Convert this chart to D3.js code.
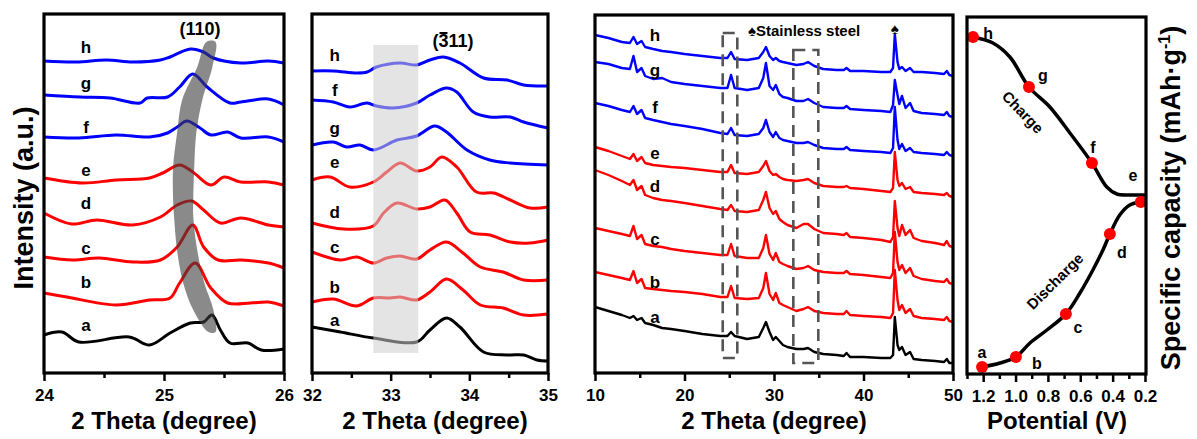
<!DOCTYPE html>
<html><head><meta charset="utf-8">
<script src="https://cdn.jsdelivr.net/npm/d3@7"></script>
<style>
body{margin:0;background:#fff;}
svg{display:block;}
</style></head><body>
<svg id="chart" width="1197" height="439"></svg>
<script>
// ---------------- DATA ----------------
const letters = ["h","g","f","e","d","c","b","a"];
const letterColor = {h:"#0000ff",g:"#0000ff",f:"#0000ff",e:"#ff0000",d:"#ff0000",c:"#ff0000",b:"#ff0000",a:"#000000"};

// Panel 1: (110) region, [2theta, intensity]
const p1H = [[24.0,312],[24.27,311],[24.52,313],[24.74,311],[24.97,313],[25.05,316],[25.22,324],[25.33,321],[25.41,315],[25.64,310],[25.87,312],[26.0,310]];
const p1G = [[24.0,278],[24.3,276],[24.55,275],[24.8,270],[24.86,275],[25.03,276],[25.13,286],[25.24,299],[25.36,286],[25.55,270],[25.64,271],[25.87,274],[26.0,268]];
const p1F = [[24.0,236],[24.29,235],[24.6,238],[24.88,236],[25.03,240],[25.11,246],[25.19,252],[25.3,245],[25.39,238],[25.53,241],[25.64,235],[25.87,236],[26.0,231]];
const p1E = [[24.0,195],[24.32,190],[24.6,193],[24.88,195],[24.99,200],[25.13,208],[25.24,201],[25.39,188],[25.5,196],[25.64,191],[25.87,191],[26.0,188]];
const p1D = [[24.0,160],[24.23,149],[24.44,153],[24.74,148],[24.97,156],[25.11,168],[25.23,172],[25.33,163],[25.47,150],[25.64,155],[25.87,148],[26.0,146]];
const p1C = [[24.0,116],[24.24,113],[24.46,115],[24.74,111],[24.97,113],[25.11,126],[25.24,148],[25.33,126],[25.45,113],[25.64,113],[25.87,110],[26.0,105]];
const p1B = [[24.0,80],[24.19,76],[24.6,68],[24.88,73],[25.05,75],[25.13,90],[25.26,110],[25.39,85],[25.53,70],[25.72,70],[25.87,71],[26.0,67]];
const p1A = [[24.0,38],[24.15,41],[24.29,31],[24.71,36],[24.88,28],[25.05,40],[25.22,50],[25.33,51],[25.4,58],[25.47,43],[25.55,30],[25.7,30],[25.81,23],[26.0,24]];
const p1Band = [[25.353,331],[25.277,306],[25.151,273],[25.109,240],[25.076,206],[25.076,173],[25.084,156],[25.109,123],[25.16,90],[25.244,63],[25.37,41],
                [25.429,41],[25.412,63],[25.336,90],[25.277,123],[25.244,156],[25.244,173],[25.252,206],[25.269,240],[25.319,273],[25.403,306],[25.429,331]];
const p1Major = [24,25,26], p1Minor = [24.5,25.5];
const p1LabelLevels = {h:326,g:290,f:246,e:203,d:170,c:125,b:91,a:48};

// Panel 2: (-311) region
const p2H = [[32.0,302],[32.27,302],[32.57,300],[32.7,301],[32.82,306],[33.12,310],[33.33,308],[33.5,313],[33.67,316],[33.88,310],[34.18,295],[34.48,293],[34.69,288],[35.0,287]];
const p2F = [[32.0,273],[32.27,271],[32.48,266],[32.7,270],[32.82,267],[33.03,265],[33.33,270],[33.5,278],[33.71,285],[33.84,281],[34.05,261],[34.26,256],[34.52,256],[34.69,251],[35.0,245]];
const p2G = [[32.0,228],[32.27,231],[32.44,226],[32.61,228],[32.78,223],[33.08,233],[33.33,237],[33.56,247],[33.71,241],[33.97,223],[34.26,213],[34.52,210],[35.0,208]];
const p2E = [[32.0,193],[32.23,196],[32.48,186],[32.78,191],[32.95,201],[33.12,210],[33.33,202],[33.5,206],[33.65,216],[33.84,206],[34.09,181],[34.31,180],[34.52,173],[34.77,165],[35.0,166]];
const p2D = [[32.0,150],[32.4,144],[32.78,147],[32.91,160],[33.08,170],[33.33,164],[33.5,166],[33.69,173],[33.84,160],[34.01,141],[34.26,138],[34.52,131],[34.77,130],[35.0,133]];
const p2C = [[32.0,121],[32.36,113],[32.57,116],[32.78,110],[32.95,115],[33.12,117],[33.33,114],[33.5,123],[33.71,131],[33.92,120],[34.14,106],[34.43,101],[34.69,93],[35.0,93]];
const p2B = [[32.0,71],[32.27,74],[32.57,67],[32.78,75],[32.99,75],[33.12,76],[33.33,73],[33.5,81],[33.71,94],[33.92,83],[34.14,68],[34.43,65],[34.69,58],[35.0,59]];
const p2A = [[32.0,46],[32.36,41],[32.78,35],[33.33,31],[33.5,43],[33.71,55],[33.88,46],[34.18,21],[34.48,18],[34.69,18],[34.86,13],[35.0,12]];
const p2Shade = {x0:32.78, x1:33.35, y0:20, y1:328};
const p2Major = [32,33,34,35], p2Minor = [32.5,33.5,34.5];
const p2LabelLevels = {h:318,f:283,g:245,e:211,d:161,c:126,b:86,a:53};

// Panel 3: full pattern, shared 2theta grid
const p3Theta = [10,11.5,13,13.9,14.3,14.7,15.2,15.6,16.5,17.5,18.5,20,22,24,24.8,25.2,25.6,27,28.3,28.8,29.1,29.5,29.9,30.2,30.6,31,31.5,32.5,33.3,33.8,34.5,35.5,37,37.8,38.1,38.5,40,42,43,43.3,43.5,43.8,44.0,44.3,44.7,45.2,45.6,46.5,48,49,49.3,49.6,50];
const p3H = [338,335,331,330,336,329,332,326,324,322,321,319,317,315,315,321,314,313,315,321,326,317,313,315,312,311,310,308,309,311,307,304,303,303,305,302,302,301,301,305,339,311,304,306,302,305,301,301,300,299,302,298,297];
const p3G = [311,309,305,304,317,301,305,297,294,295,291,289,287,285,285,298,285,283,285,295,310,287,283,288,279,276,275,272,272,274,270,266,265,265,267,264,263,262,261,268,293,278,269,277,265,270,262,260,259,258,261,257,256];
const p3F = [270,267,263,261,267,259,263,255,253,251,249,247,244,240,239,245,238,237,239,245,253,241,236,241,235,233,232,230,230,231,228,225,224,224,226,223,222,221,220,225,266,233,224,229,222,225,221,220,219,218,221,218,217];
const p3E = [226,222,217,214,219,212,216,210,208,207,206,205,203,201,201,208,200,199,201,207,212,202,198,199,196,194,193,192,193,194,190,187,186,186,187,185,184,182,181,185,221,193,187,190,184,186,181,180,179,178,180,177,176];
const p3D = [203,198,192,188,193,183,187,178,175,173,172,170,167,164,163,168,162,161,163,173,181,165,159,162,154,151,148,145,149,149,144,140,139,138,140,136,135,133,131,136,172,145,137,148,138,143,135,132,130,128,132,127,126];
const p3C = [145,142,139,137,147,134,138,129,127,126,124,122,120,118,118,129,117,115,115,125,138,119,113,120,111,109,107,104,105,107,103,101,100,100,102,99,98,96,95,100,141,111,103,108,100,105,97,94,92,91,94,90,89];
const p3B = [101,98,95,93,102,90,94,85,84,83,82,81,79,76,76,87,75,74,75,85,100,79,73,80,70,68,66,62,64,66,62,60,59,59,62,58,57,56,55,60,103,73,63,68,60,64,57,55,54,53,56,52,51];
const p3A = [66,62,58,55,57,53,55,50,48,45,44,42,39,37,37,41,37,34,36,45,51,41,33,36,32,28,26,24,24,25,21,19,18,17,20,16,16,15,15,18,56,28,23,26,18,21,14,13,12,11,14,10,10];
const p3Boxes = [{x0:24.27,x1:25.9,y0:15,y1:340},{x0:32.16,x1:34.95,y0:10,y1:323}];
const p3Major = [10,20,30,40,50], p3Minor = [15,25,35,45];
const p3LabelLevels = {h:338,g:303,f:266,e:220,d:187,c:134,b:91,a:56};

// Panel 4: potential (V) vs capacity
const p4Charge = [[0.2,179],[0.294,179],[0.374,180],[0.436,187],[0.528,211],[0.664,241],[0.788,267],[0.917,287],[1.035,317],[1.14,331],[1.263,337]];
const p4Discharge = [[1.207,7],[1.096,11],[0.998,17],[0.911,31],[0.806,44],[0.689,60],[0.602,81],[0.522,104],[0.46,124],[0.417,140],[0.356,159],[0.294,169],[0.226,172]];
const p4Points = {a:[1.207,7],b:[0.998,17],c:[0.689,60],d:[0.417,140],e:[0.226,172],f:[0.528,211],g:[0.917,287],h:[1.263,337]};
const p4LabelPos = {h:[1.17,341],g:[0.831,299],f:[0.522,227],e:[0.275,199],d:[0.343,122],c:[0.615,47],b:[0.868,11],a:[1.207,22]};
const p4Major = [1.2,1.0,0.8,0.6,0.4,0.2], p4Minor = [1.3,1.1,0.9,0.7,0.5,0.3];

// ---------------- DRAW ----------------
const FONT = "Arial, 'Liberation Sans', Helvetica, sans-serif";
const svg = d3.select("#chart");
const TOP = 14, BOT = 373;

function frame(x0, x1, y0, y1){
  svg.append("rect").attr("x",x0).attr("y",y0).attr("width",x1-x0).attr("height",y1-y0)
    .attr("fill","none").attr("stroke","#000").attr("stroke-width",3.2);
}
function xAxis(x, majors, minors, fmt, y0){
  const g = svg.append("g").attr("transform",`translate(0,${y0})`);
  g.call(d3.axisBottom(x).tickValues(majors).tickSize(8).tickPadding(8).tickFormat(fmt));
  g.select(".domain").remove();
  g.selectAll("line").attr("stroke","#000").attr("stroke-width",2.5);
  g.selectAll("text").attr("font-size",17).attr("font-weight","bold").attr("font-family",FONT).attr("fill","#000");
  const m = svg.append("g").attr("transform",`translate(0,${y0})`);
  m.call(d3.axisBottom(x).tickValues(minors).tickSize(5).tickFormat(""));
  m.select(".domain").remove();
  m.selectAll("line").attr("stroke","#000").attr("stroke-width",2.5);
}
function title(txt, cx, y){
  svg.append("text").attr("x",cx).attr("y",y).attr("text-anchor","middle")
    .attr("font-family",FONT).attr("font-weight","bold").attr("font-size",24).text(txt);
}
function label(txt, x, y, size){
  svg.append("text").attr("x",x).attr("y",y).attr("text-anchor","middle").attr("dominant-baseline","central")
    .attr("font-family",FONT).attr("font-weight","bold").attr("font-size",size||17).attr("fill","#000").text(txt);
}

// Panel 1
{
  const x = d3.scaleLinear().domain([24,26]).range([44,284]);
  const y = d3.scaleLinear().domain([0,360]).range([373,13]);
  const series = {h:p1H,g:p1G,f:p1F,e:p1E,d:p1D,c:p1C,b:p1B,a:p1A};
  const line = d3.line().x(d=>x(d[0])).y(d=>y(d[1])).curve(d3.curveCatmullRom.alpha(0.5));
  letters.forEach(k=>{
    svg.append("path").attr("d",line(series[k])).attr("fill","none").attr("stroke",letterColor[k])
      .attr("stroke-width",3).attr("stroke-linejoin","round");
    label(k, x(24.35), y(p1LabelLevels[k]));
  });
  const band = d3.line().x(d=>x(d[0])).y(d=>y(d[1])).curve(d3.curveCatmullRomClosed);
  svg.append("path").attr("d",band(p1Band)).attr("fill","rgb(60,60,60)").attr("fill-opacity",0.6);
  svg.append("text").attr("x",x(25.3)).attr("y",35).attr("text-anchor","middle")
    .attr("font-family",FONT).attr("font-weight","bold").attr("font-size",18).text("(110)");
  xAxis(x, p1Major, p1Minor, d3.format("d"), BOT);
  frame(44,284,TOP,BOT);
  title("2 Theta (degree)", 164, 429);
}

// Panel 2
{
  const x = d3.scaleLinear().domain([32,35]).range([312,548]);
  const y = d3.scaleLinear().domain([0,360]).range([373,13]);
  const series = {h:p2H,g:p2G,f:p2F,e:p2E,d:p2D,c:p2C,b:p2B,a:p2A};
  const line = d3.line().x(d=>x(d[0])).y(d=>y(d[1])).curve(d3.curveCatmullRom.alpha(0.5));
  letters.forEach(k=>{
    svg.append("path").attr("d",line(series[k])).attr("fill","none").attr("stroke",letterColor[k])
      .attr("stroke-width",3).attr("stroke-linejoin","round");
    label(k, x(32.29), y(p2LabelLevels[k]));
  });
  svg.append("rect").attr("x",x(p2Shade.x0)).attr("width",x(p2Shade.x1)-x(p2Shade.x0))
    .attr("y",y(p2Shade.y1)).attr("height",y(p2Shade.y0)-y(p2Shade.y1))
    .attr("fill","rgb(205,205,205)").attr("fill-opacity",0.55);
  const t = svg.append("text").attr("x",453).attr("y",47).attr("text-anchor","middle")
    .attr("font-family",FONT).attr("font-weight","bold").attr("font-size",18);
  t.append("tspan").text("(");
  t.append("tspan").text("3");
  t.append("tspan").text("11)");
  const ext = t.node().getExtentOfChar(1);
  svg.append("line").attr("x1",ext.x+1).attr("x2",ext.x+ext.width-1)
    .attr("y1",ext.y+2).attr("y2",ext.y+2).attr("stroke","#000").attr("stroke-width",2);
  xAxis(x, p2Major, p2Minor, d3.format("d"), BOT);
  frame(312,548,TOP,BOT);
  title("2 Theta (degree)", 435, 429);
}

// Panel 3
{
  const x = d3.scaleLinear().domain([10,50]).range([595,953]);
  const y = d3.scaleLinear().domain([0,360]).range([373,13]);
  const series = {h:p3H,g:p3G,f:p3F,e:p3E,d:p3D,c:p3C,b:p3B,a:p3A};
  const line = d3.line().x((d,i)=>x(p3Theta[i])).y(d=>y(d)).curve(d3.curveLinear);
  letters.forEach(k=>{
    svg.append("path").attr("d",line(series[k])).attr("fill","none").attr("stroke",letterColor[k])
      .attr("stroke-width",2.4).attr("stroke-linejoin","round");
    label(k, x(16.7), y(p3LabelLevels[k]));
  });
  p3Boxes.forEach(b=>{
    svg.append("rect").attr("x",x(b.x0)).attr("width",x(b.x1)-x(b.x0))
      .attr("y",y(b.y1)).attr("height",y(b.y0)-y(b.y1))
      .attr("fill","none").attr("stroke","#555").attr("stroke-width",2.6).attr("stroke-dasharray","12,7");
  });
  svg.append("text").attr("x",x(27.1)).attr("y",36).attr("font-family",FONT).attr("font-weight","bold")
    .attr("font-size",15).text("\u2660Stainless steel");
  svg.append("text").attr("x",x(43.5)).attr("y",34).attr("text-anchor","middle").attr("font-family",FONT)
    .attr("font-weight","bold").attr("font-size",15).text("\u2660");
  xAxis(x, p3Major, p3Minor, d3.format("d"), BOT);
  frame(595,953,TOP+1,BOT);
  title("2 Theta (degree)", 774, 429);
}

// Panel 4
{
  const x = d3.scaleLinear().domain([1.3,0.2]).range([967,1145]);
  const y = d3.scaleLinear().domain([0,360]).range([374,14]);
  const line = d3.line().x(d=>x(d[0])).y(d=>y(d[1])).curve(d3.curveCatmullRom.alpha(0.5));
  [p4Charge,p4Discharge].forEach(s=>{
    svg.append("path").attr("d",line(s)).attr("fill","none").attr("stroke","#000").attr("stroke-width",3.5);
  });
  letters.forEach(k=>{
    svg.append("circle").attr("cx",x(p4Points[k][0])).attr("cy",y(p4Points[k][1])).attr("r",6).attr("fill","#ff0000");
    label(k, x(p4LabelPos[k][0]), y(p4LabelPos[k][1]), 16);
  });
  svg.append("text").attr("transform",`translate(${x(0.954)},${y(262)}) rotate(46)`)
    .attr("text-anchor","middle").attr("dominant-baseline","central")
    .attr("font-family",FONT).attr("font-weight","bold").attr("font-size",15).text("Charge");
  svg.append("text").attr("transform",`translate(${x(0.757)},${y(93)}) rotate(-45)`)
    .attr("text-anchor","middle").attr("dominant-baseline","central")
    .attr("font-family",FONT).attr("font-weight","bold").attr("font-size",15).text("Discharge");
  xAxis(x, p4Major, p4Minor, d3.format(".1f"), 374);
  frame(967,1146,17,374);
  title("Potential (V)", 1057, 429);
}

// Y axis titles
svg.append("text").attr("transform","translate(33,198) rotate(-90)").attr("text-anchor","middle")
  .attr("font-family",FONT).attr("font-weight","bold").attr("font-size",27).text("Intensity (a.u.)");
{
  const t = svg.append("text").attr("transform","translate(1180,198) rotate(-90)").attr("text-anchor","middle")
    .attr("font-family",FONT).attr("font-weight","bold").attr("font-size",27);
  t.append("tspan").text("Specific capacity (mAh\u00b7g");
  t.append("tspan").attr("dy",-10).attr("font-size",16).text("-1");
  t.append("tspan").attr("dy",10).text(")");
}
</script>
</body></html>
